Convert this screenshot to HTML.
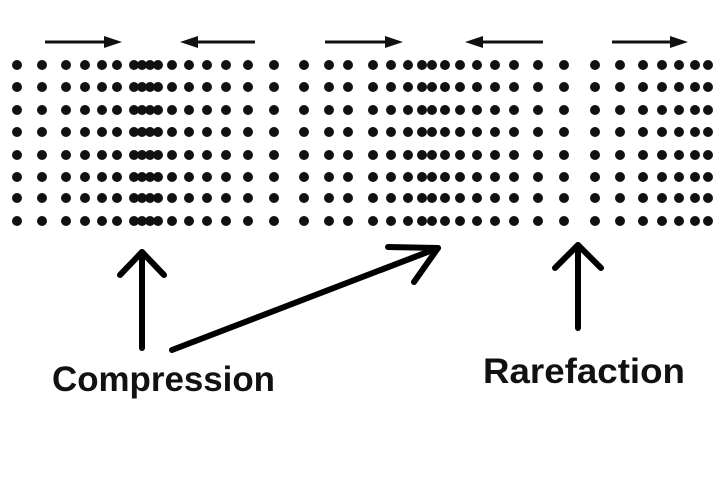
<!DOCTYPE html>
<html><head><meta charset="utf-8"><style>html,body{margin:0;padding:0;background:#fff}svg{display:block}</style></head>
<body>
<svg width="720" height="481" viewBox="0 0 720 481" xmlns="http://www.w3.org/2000/svg">
<g stroke="#111" stroke-width="3" fill="#111">
<line x1="45" y1="42" x2="112" y2="42"/><polygon points="122,42 104,36 104,48" stroke="none"/>
<line x1="190" y1="42" x2="255" y2="42"/><polygon points="180,42 198,36 198,48" stroke="none"/>
<line x1="325" y1="42" x2="393" y2="42"/><polygon points="403,42 385,36 385,48" stroke="none"/>
<line x1="475" y1="42" x2="543" y2="42"/><polygon points="465,42 483,36 483,48" stroke="none"/>
<line x1="612" y1="42" x2="678" y2="42"/><polygon points="688,42 670,36 670,48" stroke="none"/>
</g>
<g id="dots" fill="#111"></g>
<g stroke="#000" stroke-width="6" fill="none" stroke-linecap="round" stroke-linejoin="round">
<line x1="142" y1="348" x2="142" y2="252"/><polyline points="120,275 142,252 164,275"/>
<line x1="172" y1="350" x2="438" y2="248"/><polyline points="388,247 438,248 414,282"/>
<line x1="578" y1="328" x2="578" y2="245"/><polyline points="555,268 578,245 601,268"/>
</g>
<g font-family="Liberation Sans, sans-serif" font-size="35" font-weight="bold" fill="#111">
<text x="52" y="391" textLength="223" lengthAdjust="spacingAndGlyphs">Compression</text>
<text x="483" y="383" textLength="202" lengthAdjust="spacingAndGlyphs">Rarefaction</text>
</g>
</svg>
<script>
var xs=[17,42,66,85,102,117,134,142,150,158,172,189,207,226,248,274,304,329,348,373,391,408,422,432,445,460,477,495,514,538,564,595,620,643,662,679,695,708];
var ys=[65,87,110,132,155,177,198,221];
var g=document.getElementById('dots'),s='';
ys.forEach(function(y){xs.forEach(function(x){s+='<circle cx="'+x+'" cy="'+y+'" r="5"/>';});});
g.innerHTML=s;
</script>
</body></html>
